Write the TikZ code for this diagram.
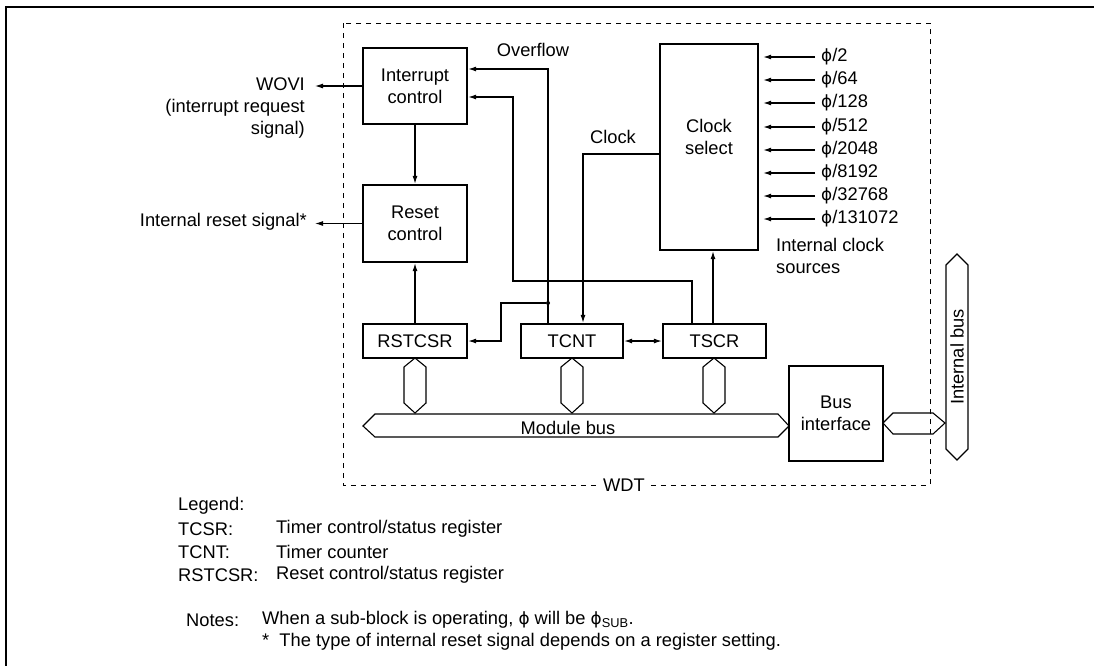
\documentclass[tikz,border=0pt]{standalone}
\usepackage{fontspec}
\setmainfont{Liberation Sans}
\newfontfamily\phifont{DejaVu Sans}[Scale=0.92]
\newcommand{\ph}{{\phifont ϕ}}
\usetikzlibrary{arrows.meta}
\begin{document}
\begin{tikzpicture}[x=1pt,y=-1pt,
  font=\fontsize{18.3}{22}\selectfont,
  box/.style={draw,line width=2.4pt,inner sep=0pt,align=center},
  ln/.style={line width=1.1pt},
  arr/.style={ln,-{Latex[length=8pt,width=5pt]}},
  darr/.style={ln,{Latex[length=8pt,width=5pt]}-{Latex[length=8pt,width=5pt]}},
  txt/.style={inner sep=0pt,align=center},
  hexs/.style={line width=1.1pt,line join=miter},
]
\useasboundingbox (0,0) rectangle (1094,665);
% outer frame
\draw[line width=2.5pt] (6,700) -- (6,7) -- (1120,7);
% WDT dashed box
\draw[line width=1pt,dash pattern=on 5pt off 5pt] (343,23) rectangle (930,485);
\node[fill=white,inner sep=2pt] (wdt) at (624,485) {WDT};

% blocks
\node[box,minimum width=104pt,minimum height=76pt] (int) at (415,86) {Interrupt\\control};
\node[box,minimum width=104pt,minimum height=77pt] (rst) at (415,223.5) {Reset\\control};
\node[box,minimum width=98pt,minimum height=206pt] (csel) at (709,147) {};
\node[txt] (cselt) at (709,137) {Clock\\select};
\node[box,minimum width=104pt,minimum height=34pt] (rstcsr) at (415,341) {RSTCSR};
\node[box,minimum width=102pt,minimum height=34pt] (tcnt) at (572,341) {TCNT};
\node[box,minimum width=103pt,minimum height=34pt] (tscr) at (714.5,341) {TSCR};
\node[box,minimum width=94pt,minimum height=95pt] (bif) at (836,413.5) {Bus\\interface};

% outputs on the left
\coordinate (wovi) at (315,86);
\draw[arr] (int.west) -- (wovi);
\node[txt,anchor=east,align=right] (wovit) at (305,108) {WOVI\\(interrupt request\\signal)};
\coordinate (irs) at (315,223.5);
\draw[arr] (rst.west) -- (irs);
\node[txt,anchor=east] (irst) at (307,222) {Internal reset signal*};

\draw[arr] (int.south) -- (rst.north);
\draw[arr] (rstcsr.north) -- (rst.south);

% overflow
\coordinate (ovT) at (548,69);
\draw[arr] (tcnt.north -| ovT) -- (ovT) -- (ovT -| int.east);
\node[txt] (ovl) at (533,50) {Overflow};
\node[circle,fill,inner sep=0pt,minimum size=4pt] (jn) at (548,303) {};
\coordinate (rb) at (501,303);
\draw[arr] (jn) -- (rb) -- (rb |- rstcsr.east) -- (rstcsr.east);

% TSCR feedback to interrupt control
\coordinate (tf1) at (692,281);
\coordinate (tf2) at (513,97);
\draw[arr] (tscr.north -| tf1) -- (tf1) -- (tf1 -| tf2) -- (tf2) -- (tf2 -| int.east);

% clock
\coordinate (ck) at (583,154);
\draw[arr] (csel.west |- ck) -- (ck) -- (ck |- tcnt.north);
\node[txt] (ckl) at (613,137) {Clock};
\draw[arr] (tscr.north -| 713,0) -- (csel.south -| 713,0);
\draw[darr] (tcnt.east) -- (tscr.west);

% clock inputs
\foreach \t/\yy [count=\i from 0] in {2/57,64/80,128/103,512/127,2048/150,8192/173,32768/196,131072/219} {
  \node[anchor=west,inner ysep=0pt,inner xsep=6pt] (ph\i) at (815,\yy) {\ph/\t};
  \draw[arr,shorten >=4pt] (ph\i.west) -- (ph\i.west -| csel.east);
}
\node[txt,anchor=west,align=left] (ics) at (776,256) {Internal clock\\sources};

% module bus
\draw[hexs] (363,426) -- (375,414) -- (778,414) -- (789,426) -- (778,437) -- (375,437) -- cycle;
\node[txt] (mbus) at (568,428) {Module bus};
\foreach \cx in {415,572,714} {
  \draw[hexs] (\cx,358) -- (\cx+11,367) -- (\cx+11,403) -- (\cx,413) -- (\cx-11,403) -- (\cx-11,367) -- cycle;
}
\draw[hexs] (883,423) -- (893,413) -- (933,413) -- (945,423) -- (933,434) -- (893,434) -- cycle;
\draw[hexs] (957,254) -- (968,265) -- (968,449) -- (957,460) -- (946,449) -- (946,265) -- cycle;
\node[txt,rotate=90] (ibus) at (957,357) {Internal bus};

% legend
\node[txt,anchor=west] (lg) at (178,506) {Legend:};
\node[txt,anchor=west] (l1a) at (178,529) {TCSR:};
\node[txt,anchor=west] (l1b) at (276,529) {Timer control/status register};
\node[txt,anchor=west] (l2a) at (178,552) {TCNT:};
\node[txt,anchor=west] (l2b) at (276,552) {Timer counter};
\node[txt,anchor=west] (l3a) at (178,575) {RSTCSR:};
\node[txt,anchor=west] (l3b) at (276,575) {Reset control/status register};
\node[txt,anchor=west] (n1a) at (186,620) {Notes:};
\node[txt,anchor=west] (n1b) at (262,620) {When a sub-block is operating, \ph{} will be \ph\textsubscript{SUB}.};
\node[txt,anchor=west] (n2) at (262,642) {*\ \ The type of internal reset signal depends on a register setting.};
\end{tikzpicture}
\end{document}
